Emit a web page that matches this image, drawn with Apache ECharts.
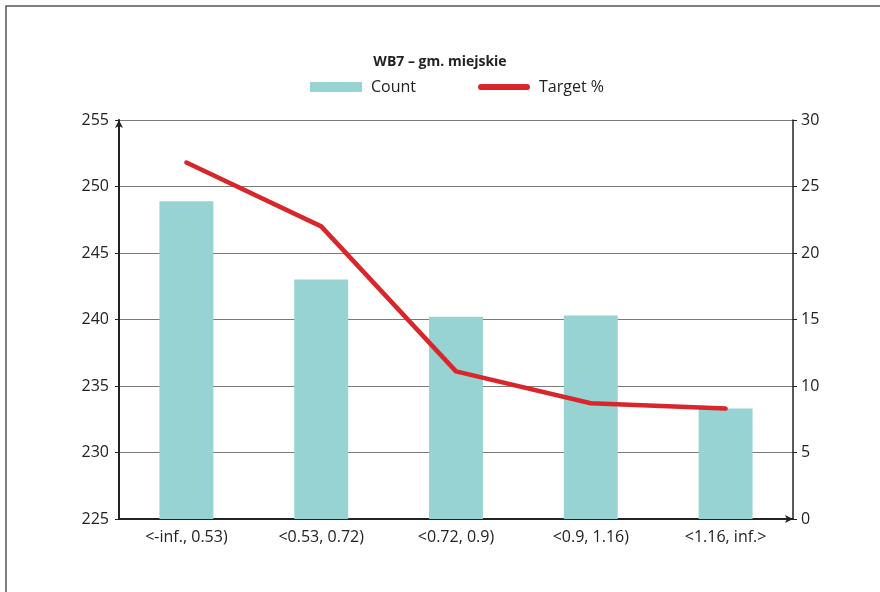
<!DOCTYPE html>
<html>
<head>
    <meta charset="utf-8">
    <script type="text/javascript" src="https://cdn.jsdelivr.net/npm/echarts@6/dist/echarts.min.js"></script>
</head>
<body style="margin:0">
<div id="main" style="width:880px;height:592px;"></div>
<script type="text/javascript">
    // przedziały WB7
    var categories = ['<-inf., 0.53)', '<0.53, 0.72)', '<0.72, 0.9)', '<0.9, 1.16)', '<1.16, inf.>'];
    var countValues = [248.9, 243.0, 240.2, 240.3, 233.3];
    var targetValues = [26.8, 22.0, 11.1, 8.7, 8.3];

    var myChart = echarts.init(document.getElementById('main'));
    var font = 'Open Sans';

    var option = {
        animation: false,
        backgroundColor: '#fff',
        title: {
            text: 'WB7 \u2013 gm. miejskie',
            left: 'center',
            top: 50,
            textStyle: {fontFamily: font, fontSize: 14, fontWeight: 'bold', color: '#222'}
        },
        legend: {
            top: 74,
            left: 305,
            itemGap: 62,
            textStyle: {fontFamily: font, fontSize: 16, color: '#222', padding: [0, 0, 0, 4]},
            data: [
                {name: 'Count', icon: 'rect', itemStyle: {color: '#96d3d2'}},
                {name: 'Target %', icon: 'path://M3,0 H47 A3,3 0 0 1 47,6 H3 A3,3 0 0 1 3,0 Z', itemStyle: {color: '#d9262b'}}
            ],
            itemWidth: 52,
            itemHeight: 10
        },
        graphic: [{
            type: 'rect',
            shape: {x: 6, y: 6, width: 900, height: 620},
            style: {fill: 'none', stroke: '#555', lineWidth: 1.5}
        }],
        grid: {left: 119, right: 87, top: 120, bottom: 73},
        xAxis: {
            type: 'category',
            data: categories,
            axisLine: {lineStyle: {color: '#222', width: 2}, symbol: ['none', 'arrow'], symbolSize: [6, 8]},
            axisTick: {show: false},
            axisLabel: {fontFamily: font, fontSize: 16, color: '#222', margin: 10}
        },
        yAxis: [{
            type: 'value',
            min: 225, max: 255, interval: 5,
            axisLine: {show: true, lineStyle: {color: '#222', width: 2}, symbol: ['none', 'arrow'], symbolSize: [6, 8]},
            axisTick: {show: true, length: 4, lineStyle: {color: '#222'}},
            axisLabel: {fontFamily: font, fontSize: 16, color: '#222', margin: 10},
            splitLine: {show: true, lineStyle: {color: '#7a7a7a', width: 1.2}}
        }, {
            type: 'value',
            min: 0, max: 30, interval: 5,
            position: 'right',
            axisLine: {show: true, lineStyle: {color: '#222', width: 1.5}},
            axisTick: {show: true, length: 4, lineStyle: {color: '#222'}},
            axisLabel: {fontFamily: font, fontSize: 16, color: '#222', margin: 8},
            splitLine: {show: false}
        }],
        series: [{
            name: 'Count',
            type: 'bar',
            data: countValues,
            barWidth: '40%',
            itemStyle: {color: '#96d3d2'},
            yAxisIndex: 0
        }, {
            name: 'Target %',
            type: 'line',
            data: targetValues,
            yAxisIndex: 1,
            symbol: 'none',
            lineStyle: {color: '#d9262b', width: 4.5, cap: 'round', join: 'round'},
            itemStyle: {color: '#d9262b'}
        }]
    };
    myChart.setOption(option);
</script>
</body>
</html>
